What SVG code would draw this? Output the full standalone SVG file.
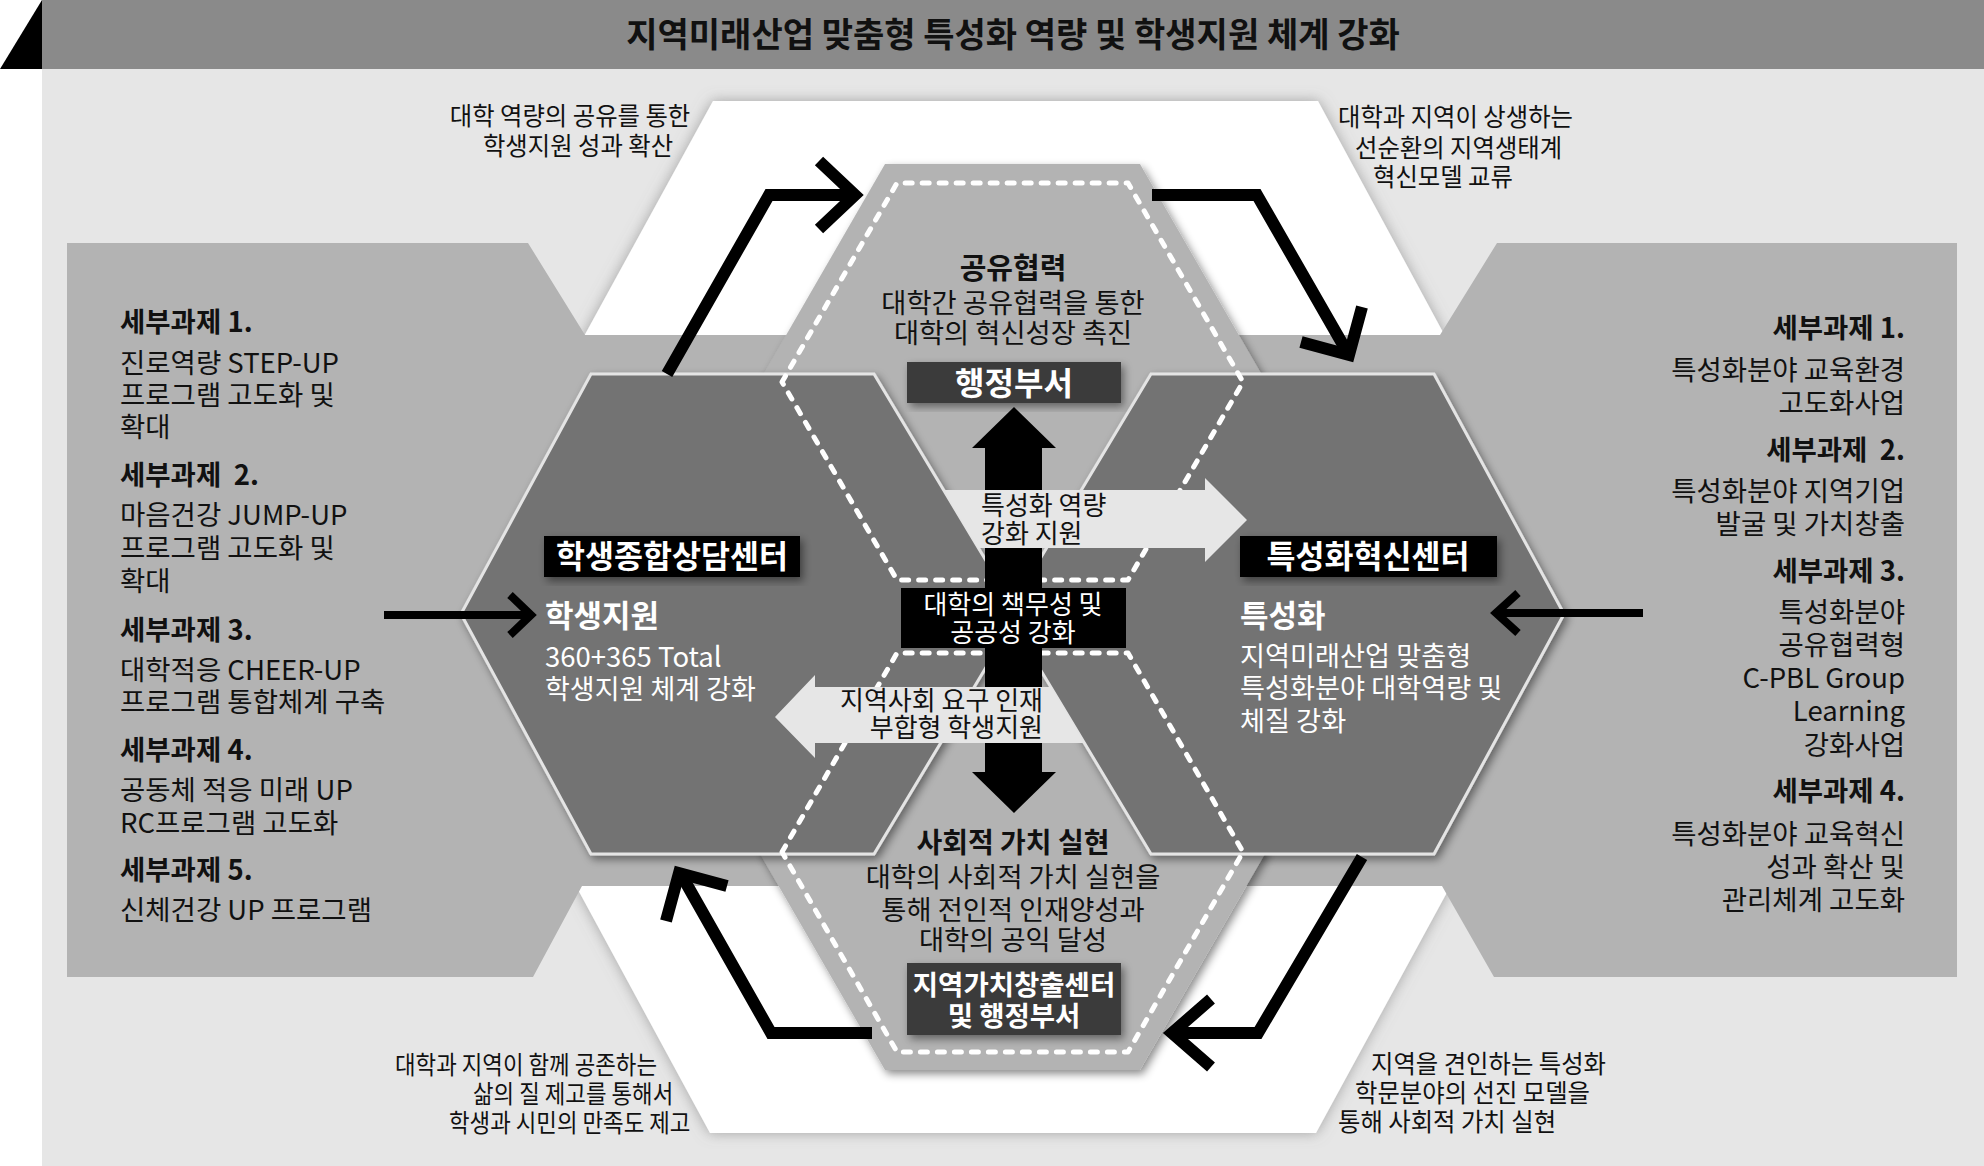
<svg xmlns="http://www.w3.org/2000/svg" width="1984" height="1166" viewBox="0 0 1984 1166">
<defs>
<filter id="sh" x="-10%" y="-10%" width="130%" height="130%"><feDropShadow dx="3" dy="4" stdDeviation="4" flood-color="#000" flood-opacity="0.45"/></filter>
<filter id="shw" x="-10%" y="-10%" width="120%" height="120%"><feDropShadow dx="0" dy="0" stdDeviation="7" flood-color="#777" flood-opacity="0.6"/></filter>
</defs>
<style>
text{font-family:"Noto Sans CJK KR","Noto Sans",sans-serif;white-space:pre}
.t{font-size:34px;font-weight:700;fill:#111;text-anchor:middle}
.p{font-size:27.5px;fill:#111}
.pb{font-size:27.5px;font-weight:700;fill:#111}
.r{text-anchor:end}
.ann{font-size:25px;fill:#111}
.c{font-size:27.3px;fill:#111;text-anchor:middle}
.cb{font-size:27px;font-weight:700;fill:#111;text-anchor:middle}
.at{font-size:26px;fill:#111}
.w{fill:#fff}
.conn{fill:none;stroke:#000;stroke-width:12;stroke-linejoin:miter;stroke-linecap:butt}
.thin{stroke-width:8}
.dash{fill:none;stroke:#fff;stroke-width:5;stroke-dasharray:7 10;stroke-linecap:round;stroke-linejoin:round}
.dark{fill:#737373;stroke:#e4e4e4;stroke-width:3}
.lhex{fill:#b3b3b3}
.larr{fill:#e6e6e6}
</style>
<g id="background">
<rect x="42" y="69" width="1942" height="1097" fill="#e6e6e6"/>
<rect x="42" y="0" width="1942" height="69" fill="#8a8a8a"/>
<polygon points="42,0 42,69 0,69" fill="#000"/>
<text class="t" x="1013" y="47">지역미래산업 맞춤형 특성화 역량 및 학생지원 체계 강화</text>
<polygon points="713,101 1318,101 1597,617 1316,1133 710,1133 430,617" fill="#fff" filter="url(#shw)"/>
<polygon points="67,243 528,243 585,335 1440,335 1497,243 1957,243 1957,977 1494,977 1442,886 582,886 533,977 67,977" fill="#b3b3b3"/>
</g>
<g id="node-top">
<polygon class="lhex" points="759,382 885,164 1140,164 1266,382 1140,600 885,600" filter="url(#sh)"/>
</g>
<g id="node-bottom">
<polygon class="lhex" points="759,852 885,634 1140,634 1266,852 1140,1070 885,1070" filter="url(#sh)"/>
</g>
<g id="node-left">
<polygon class="dark" points="461,614 591,374 874,374 1018,614 874,854 591,854" filter="url(#sh)"/>
</g>
<g id="node-right">
<polygon class="dark" points="1564,614 1434,374 1151,374 1007,614 1151,854 1434,854" filter="url(#sh)"/>
</g>
<g id="dashed">
<polygon class="dash" points="782,382 897,183 1128,183 1243,382 1128,580 897,580"/>
<polygon class="dash" points="782,852 897,653 1128,653 1243,852 1128,1052 897,1052"/>
</g>
<g id="center-arrows">
<polygon points="985,588 985,448 972,448 1014,407 1056,448 1042,448 1042,588" fill="#000"/>
<polygon points="985,648 985,772 972,772 1014,813 1056,772 1042,772 1042,648" fill="#000"/>
<polygon class="larr" points="944,490 1205,490 1205,478 1247,520 1205,562 1205,548 978,548"/>
<polygon class="larr" points="1051,687 815,687 815,675 775,717 815,758 815,743 1084,743"/>
<text class="at" x="981" y="515">특성화 역량</text>
<text class="at" x="981" y="543">강화 지원</text>
<text class="at r" x="1043" y="710">지역사회 요구 인재</text>
<text class="at r" x="1043" y="737">부합형 학생지원</text>
</g>
<g id="node-center-box">
<rect x="901" y="588" width="225" height="60" fill="#000"/>
<text class="c w" x="1013" y="614" style="font-size:26px">대학의 책무성 및</text>
<text class="c w" x="1013" y="642" style="font-size:26px">공공성 강화</text>
</g>
<g id="node-top-text">
<text class="cb" x="1013" y="279" style="font-size:29px">공유협력</text>
<text class="c" x="1013" y="313">대학간 공유협력을 통한</text>
<text class="c" x="1013" y="343">대학의 혁신성장 촉진</text>
<rect x="907" y="362" width="214" height="41" fill="#3a3a3a" filter="url(#sh)"/>
<text class="cb w" x="1014" y="395" style="font-size:32px">행정부서</text>
</g>
<g id="node-bottom-text">
<text class="cb" x="1013" y="853" style="font-size:28px">사회적 가치 실현</text>
<text class="c" x="1013" y="887">대학의 사회적 가치 실현을</text>
<text class="c" x="1013" y="920">통해 전인적 인재양성과</text>
<text class="c" x="1013" y="950">대학의 공익 달성</text>
<rect x="907" y="963" width="214" height="72" fill="#3a3a3a" filter="url(#sh)"/>
<text class="cb w" x="1014" y="995" style="font-size:27.5px">지역가치창출센터</text>
<text class="cb w" x="1014" y="1026" style="font-size:27.5px">및 행정부서</text>
</g>
<g id="node-left-text">
<rect x="544" y="536" width="256" height="41" fill="#000" filter="url(#sh)"/>
<text class="cb w" x="672" y="568" style="font-size:31.5px">학생종합상담센터</text>
<text class="pb w" x="545" y="627" style="font-size:31px">학생지원</text>
<text class="p w" x="545" y="667">360+365 Total</text>
<text class="p w" x="545" y="699" style="font-size:27px">학생지원 체계 강화</text>
</g>
<g id="node-right-text">
<rect x="1240" y="536" width="257" height="41" fill="#000" filter="url(#sh)"/>
<text class="cb w" x="1368" y="568" style="font-size:31.5px">특성화혁신센터</text>
<text class="pb w" x="1240" y="627" style="font-size:31px">특성화</text>
<text class="p w" x="1240" y="666" style="font-size:27.2px">지역미래산업 맞춤형</text>
<text class="p w" x="1240" y="698" style="font-size:27.2px">특성화분야 대학역량 및</text>
<text class="p w" x="1240" y="731" style="font-size:27.2px">체질 강화</text>
</g>
<g id="node-left-panel">
<text class="pb" x="120" y="332">세부과제 1.</text>
<text class="p" x="120" y="373">진로역량 STEP-UP</text>
<text class="p" x="120" y="405">프로그램 고도화 및</text>
<text class="p" x="120" y="437">확대</text>
<text class="pb" x="120" y="485">세부과제  2.</text>
<text class="p" x="120" y="525">마음건강 JUMP-UP</text>
<text class="p" x="120" y="558">프로그램 고도화 및</text>
<text class="p" x="120" y="591">확대</text>
<text class="pb" x="120" y="640">세부과제 3.</text>
<text class="p" x="120" y="680">대학적응 CHEER-UP</text>
<text class="p" x="120" y="712">프로그램 통합체계 구축</text>
<text class="pb" x="120" y="760">세부과제 4.</text>
<text class="p" x="120" y="800">공동체 적응 미래 UP</text>
<text class="p" x="120" y="833">RC프로그램 고도화</text>
<text class="pb" x="120" y="880">세부과제 5.</text>
<text class="p" x="120" y="920">신체건강 UP 프로그램</text>
</g>
<g id="node-right-panel">
<text class="pb r" x="1905" y="338">세부과제 1.</text>
<text class="p r" x="1905" y="380">특성화분야 교육환경</text>
<text class="p r" x="1905" y="413">고도화사업</text>
<text class="pb r" x="1905" y="460">세부과제  2.</text>
<text class="p r" x="1905" y="501">특성화분야 지역기업</text>
<text class="p r" x="1905" y="534">발굴 및 가치창출</text>
<text class="pb r" x="1905" y="581">세부과제 3.</text>
<text class="p r" x="1905" y="622">특성화분야</text>
<text class="p r" x="1905" y="655">공유협력형</text>
<text class="p r" x="1905" y="688">C-PBL Group</text>
<text class="p r" x="1905" y="721">Learning</text>
<text class="p r" x="1905" y="755">강화사업</text>
<text class="pb r" x="1905" y="801">세부과제 4.</text>
<text class="p r" x="1905" y="844">특성화분야 교육혁신</text>
<text class="p r" x="1905" y="877">성과 확산 및</text>
<text class="p r" x="1905" y="910">관리체계 고도화</text>
</g>
<g id="annotations">
<text class="ann" text-anchor="middle" transform="translate(570,125) scale(0.975,1)">대학 역량의 공유를 통한</text>
<text class="ann" text-anchor="middle" transform="translate(578,155) scale(0.975,1)">학생지원 성과 확산</text>
<text class="ann" transform="translate(1338,126) scale(0.975,1)">대학과 지역이 상생하는</text>
<text class="ann" transform="translate(1355,157) scale(0.975,1)">선순환의 지역생태계</text>
<text class="ann" transform="translate(1373,186) scale(0.975,1)">혁신모델 교류</text>
<text class="ann" transform="translate(395,1074) scale(0.895,1)">대학과 지역이 함께 공존하는</text>
<text class="ann" transform="translate(473,1103) scale(0.895,1)">삶의 질 제고를 통해서</text>
<text class="ann" transform="translate(449,1132) scale(0.895,1)">학생과 시민의 만족도 제고</text>
<text class="ann" transform="translate(1371,1073) scale(0.975,1)">지역을 견인하는 특성화</text>
<text class="ann" transform="translate(1355,1102) scale(0.975,1)">학문분야의 선진 모델을</text>
<text class="ann" transform="translate(1338,1131) scale(0.975,1)">통해 사회적 가치 실현</text>
</g>
<g id="connectors">
<path class="conn" d="M667,374 L769,195 L853,195"/>
<path class="conn" d="M819,161 L855,195 L819,229"/>
<path class="conn" d="M1152,195 L1257,195 L1346,350"/>
<path class="conn" d="M1301,342 L1349,355 L1362,307"/>
<path class="conn thin" d="M384,615 L528,615"/>
<path class="conn thin" d="M510,595 L531,615 L510,635"/>
<path class="conn thin" d="M1643,613 L1499,613"/>
<path class="conn thin" d="M1518,593 L1496,613 L1518,633"/>
<path class="conn" d="M872,1033 L771,1033 L682,876"/>
<path class="conn" d="M727,886 L679,873 L666,921"/>
<path class="conn" d="M1362,857 L1258,1033 L1175,1033"/>
<path class="conn" d="M1211,999 L1172,1033 L1211,1067"/>
</g>
</svg>
